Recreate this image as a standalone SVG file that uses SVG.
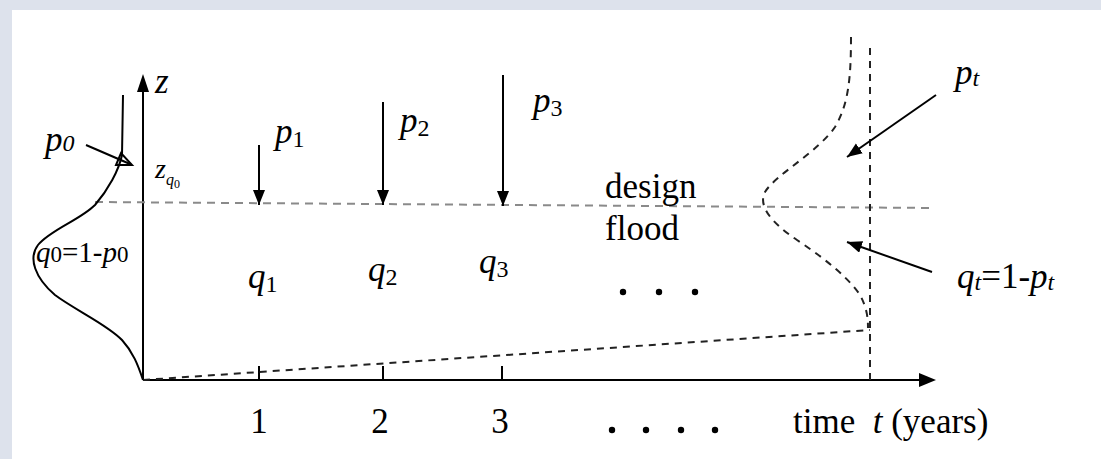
<svg xmlns="http://www.w3.org/2000/svg" width="1101" height="459" viewBox="0 0 1101 459">
<style>
text{font-family:"Liberation Serif","Times New Roman",Times,serif;fill:#000}
.it{font-style:italic}
.lbl{font-size:35px}
.sub{font-size:24px}
.ax{stroke:#000;stroke-width:2;fill:none}
.arr{stroke:#000;stroke-width:2;fill:none;marker-end:url(#ah)}
.dash{stroke:#222;stroke-width:2;fill:none;stroke-dasharray:7 6}
.gdash{stroke:#8a8a8a;stroke-width:2;fill:none;stroke-dasharray:8 6}
</style>
<defs>
<marker id="ah" markerUnits="userSpaceOnUse" markerWidth="16" markerHeight="14" refX="15" refY="6" orient="auto">
<path d="M0,0 L15,6 L0,12 z" fill="#000"/>
</marker>
</defs>
<rect x="0" y="0" width="1101" height="459" fill="#dde2ec"/>
<rect x="12" y="10" width="1089" height="449" fill="#fff"/>

<g id="connectors">
<path class="ax" d="M143,380 V88"/>
<path d="M143,74 L137,92 L149,92 z" fill="#000"/>
<path class="ax" d="M143,380 H922"/>
<path d="M936,380 L919,373 L919,387 z" fill="#000"/>
<path class="ax" d="M259,366 V380 M383,366 V380 M502,366 V380"/>
<path class="gdash" d="M95,202 L933,208"/>
<path class="dash" d="M143,380 L870,330" stroke="#555"/>
<path class="dash" d="M870,48 V380"/>
<path class="ax" d="M123,95 L122,155 C119,170 108,190 95,205 C80,220 50,230 38,245 C28,258 35,278 55,295 C75,310 108,325 122,340 C133,352 138,365 143,380"/>
<path class="dash" d="M851,37 C851,80 848,105 835,127 C818,152 775,175 765,192 C758,205 770,222 797,240 C830,262 850,280 860,295 C867,308 868,318 868,328"/>
<path class="ax" d="M86,145 L130,164"/>
<path d="M132,165 L116,165 L121,153 z" stroke="#000" stroke-width="2" fill="none"/>
<path class="arr" d="M259,145 V205"/>
<path class="arr" d="M383,102 V205"/>
<path class="arr" d="M503,75 V206"/>
<path class="arr" d="M936,95 L847,157"/>
<path class="arr" d="M932,272 L847,242"/>
</g>

<g id="labels">
<text class="lbl it" x="155" y="93">z</text>
<text x="155" y="178" class="it" font-size="28">z<tspan font-size="16" dy="7">q</tspan><tspan font-size="12" dy="3" font-style="normal">0</tspan></text>
<text x="45" y="151" class="lbl it">p<tspan class="sub">0</tspan></text>
<text x="36" y="262" font-size="29"><tspan class="it">q</tspan><tspan font-size="23">0</tspan>=1-<tspan class="it">p</tspan><tspan font-size="23">0</tspan></text>

<text x="275" y="143" class="lbl"><tspan class="it">p</tspan><tspan class="sub" dy="4">1</tspan></text>
<text x="400" y="132" class="lbl"><tspan class="it">p</tspan><tspan class="sub" dy="4">2</tspan></text>
<text x="533" y="112" class="lbl"><tspan class="it">p</tspan><tspan class="sub" dy="4">3</tspan></text>

<text x="248" y="288" class="lbl"><tspan class="it">q</tspan><tspan class="sub" dy="4">1</tspan></text>
<text x="368" y="281" class="lbl"><tspan class="it">q</tspan><tspan class="sub" dy="4">2</tspan></text>
<text x="479" y="273" class="lbl"><tspan class="it">q</tspan><tspan class="sub" dy="4">3</tspan></text>

<text x="605" y="198" class="lbl">design</text>
<text x="605" y="240" class="lbl">flood</text>

<text x="955" y="84" class="lbl it">p<tspan class="sub" dy="2">t</tspan></text>
<text x="957" y="288" class="lbl"><tspan class="it">q</tspan><tspan class="sub it" dy="2">t</tspan><tspan dy="-2">=1-</tspan><tspan class="it">p</tspan><tspan class="sub it" dy="2">t</tspan></text>

<text x="259" y="433" class="lbl" text-anchor="middle">1</text>
<text x="380" y="433" class="lbl" text-anchor="middle">2</text>
<text x="500" y="433" class="lbl" text-anchor="middle">3</text>
<text x="793" y="433" class="lbl" xml:space="preserve">time  <tspan class="it">t</tspan> (years)</text>
</g>

<g id="dots" fill="#000">
<circle cx="623" cy="292" r="3.2"/><circle cx="659" cy="292" r="3.2"/><circle cx="695" cy="292" r="3.2"/>
<circle cx="612" cy="430" r="3.2"/><circle cx="646" cy="430" r="3.2"/><circle cx="681" cy="430" r="3.2"/><circle cx="715" cy="430" r="3.2"/>
</g>
</svg>
